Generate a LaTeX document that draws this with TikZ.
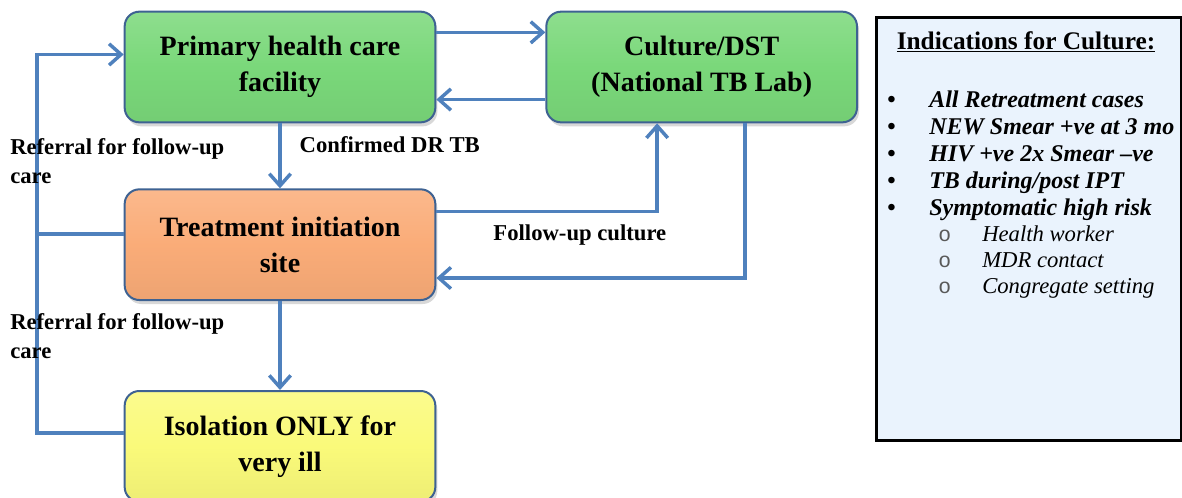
\documentclass[tikz,border=0pt]{standalone}
\usepackage{fontspec}
\setmainfont{Liberation Serif}
\newfontfamily\monobul{Liberation Mono}
\usetikzlibrary{positioning, arrows.meta, shadows}
\definecolor{flowblue}{RGB}{79,129,189}
\definecolor{boxline}{RGB}{62,98,146}
\definecolor{sitegreen}{RGB}{122,216,122}
\definecolor{siteorange}{RGB}{250,172,120}
\definecolor{siteyellow}{RGB}{250,250,122}
\definecolor{notefill}{RGB}{234,243,253}
\tikzset{
flow/.style={draw=flowblue, line width=2.6pt, -{Straight Barb[length=9pt,width=16pt]}}, % blue connectors, open heads
flowline/.style={draw=flowblue, line width=2.6pt}, % same line, no head
site/.style={rectangle, rounded corners=11pt, draw=boxline, line width=1.5pt,
  minimum width=233pt, minimum height=83pt, align=center,
  font=\bfseries\fontsize{21}{27}\selectfont,
  drop shadow={shadow xshift=1.5pt, shadow yshift=-3pt, fill=black!30}}, % the facility boxes
lbl/.style={font=\bfseries\fontsize{17}{22}\selectfont, inner sep=0pt, align=left}, % connector labels
node distance=48.75pt and 81.75pt, % gaps between the boxes
}
\newcommand{\listdot}{\makebox[31.5pt][l]{\upshape\textbullet}}
\newcommand{\listring}{\hspace*{38.25pt}\makebox[33pt][l]{\monobul\mdseries\upshape\fontsize{16}{16}\selectfont\color{black!65}o}}

\begin{document}
\begin{tikzpicture}
        \useasboundingbox (0,0) rectangle (886.5pt,-372.75pt);

        \node[site, top color=sitegreen!85!white, bottom color=sitegreen!95!black, middle color=sitegreen] (prim) at (210pt,-50.25pt) {Primary health care\\facility};
        \node[site, top color=sitegreen!85!white, bottom color=sitegreen!95!black, middle color=sitegreen, right=of prim] (cult) {Culture/DST\\(National TB Lab)};
        \node[site, top color=siteorange!85!white, bottom color=siteorange!95!black, middle color=siteorange, below=of prim] (treat) {Treatment initiation\\site};
        \node[site, top color=siteyellow!85!white, bottom color=siteyellow!95!black, middle color=siteyellow, below=66.75pt of treat] (iso) {Isolation ONLY for\\very ill};

        \coordinate (lc) at ([yshift=8pt]treat.west -| 27.75pt,0);

        \draw[flow] ([yshift=26pt]prim.east) -- ([yshift=26pt]cult.west);
        \draw[flow] ([yshift=-24.4pt]cult.west) -- ([yshift=-24.4pt]prim.east);
        \draw[flow] (prim) -- node[lbl, pos=0.33, right=13.5pt] {Confirmed DR TB} (treat);
        \draw[flow] ([yshift=25pt]treat.east) -| node[lbl, pos=0.325, below=9pt] {Follow-up culture} ([xshift=-33.4pt]cult.south);
        \draw[flow] ([xshift=32.6pt]cult.south) |- ([yshift=-25pt]treat.east);
        \draw[flow] (treat) -- (iso);
        \draw[flow] ([yshift=10pt]iso.west) -| (lc) |- ([yshift=9.4pt]prim.west);
        \draw[flowline] ([yshift=8pt]treat.west) -- (lc);

        \node[lbl, anchor=north west] (ref1) at (7.5pt,-103.5pt) {Referral for follow-up\\care};
        \node[lbl, anchor=north west] (ref2) at (7.5pt,-234.75pt) {Referral for follow-up\\care};

        \node[draw=black, line width=2.2pt, fill=notefill, minimum width=228.75pt, minimum height=317.25pt, anchor=north west] (note) at (656.25pt,-12pt) {};
        \node[font=\bfseries\fontsize{19}{24}\selectfont, inner sep=0pt, anchor=base] (title) at (769.5pt,-36.75pt) {\underline{Indications for Culture:}};
        \node[font=\bfseries\itshape\fontsize{18}{20.25}\selectfont, inner sep=0pt, align=left, anchor=north west] (list) at (665.25pt,-68pt) {%
          \listdot All Retreatment cases\\
          \listdot NEW Smear +ve at 3 mo\\
          \listdot HIV +ve 2x Smear –ve\\
          \listdot TB during/post IPT\\
          \listdot Symptomatic high risk\\[-1pt]
          \listring{\mdseries\fontsize{17}{19.5}\selectfont Health worker}\\[-0.75pt]
          \listring{\mdseries\fontsize{17}{19.5}\selectfont MDR contact}\\[-0.75pt]
          \listring{\mdseries\fontsize{17}{19.5}\selectfont Congregate setting}};
\end{tikzpicture}
\end{document}
